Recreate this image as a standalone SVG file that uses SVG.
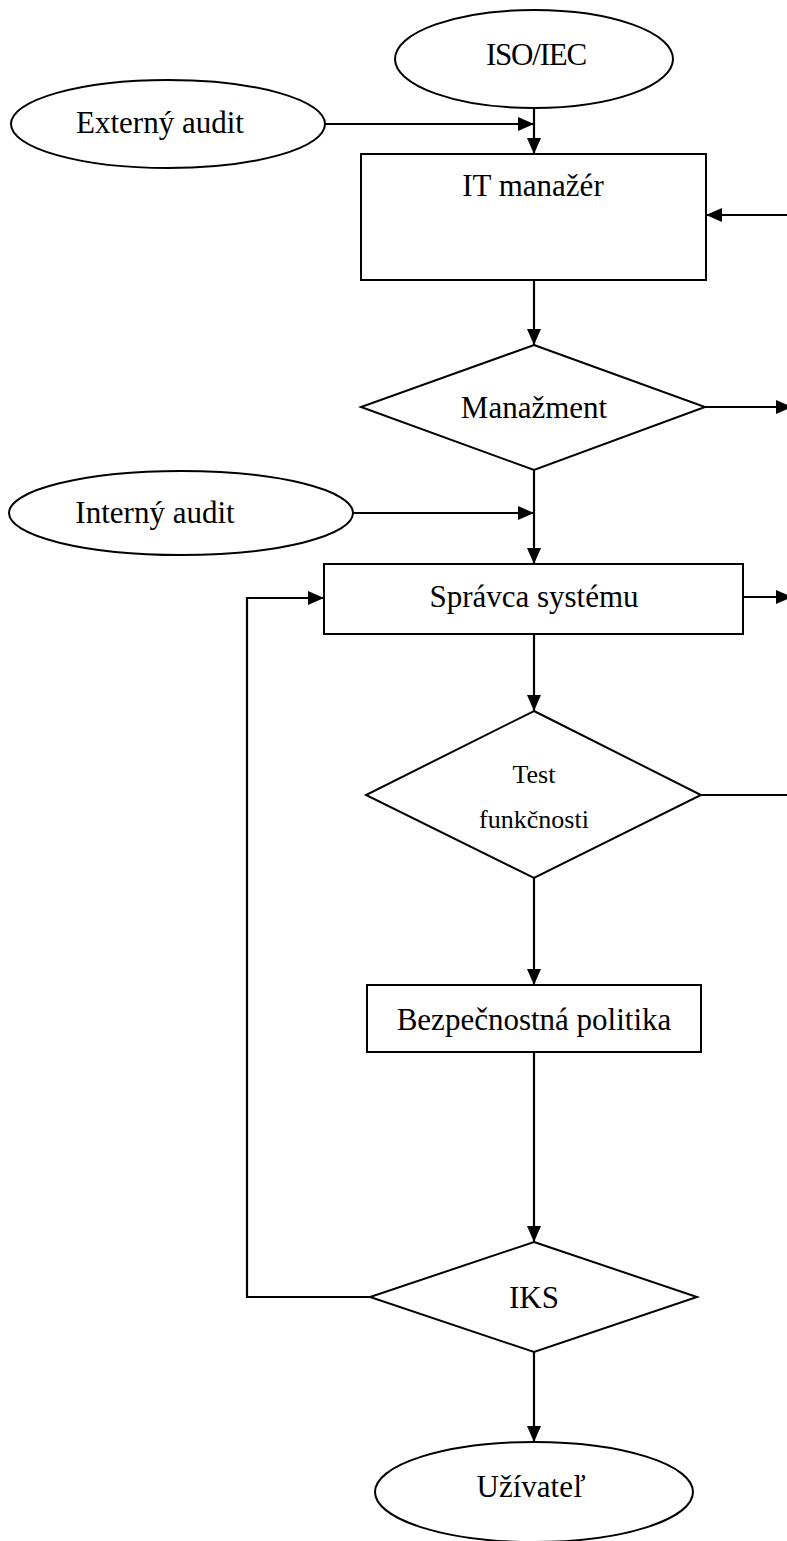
<svg xmlns="http://www.w3.org/2000/svg" width="787" height="1541" viewBox="0 0 787 1541">
<style>
.s{fill:#fff;stroke:#000;stroke-width:2}
.c{fill:none;stroke:#000;stroke-width:2.2}
.t{font-family:"Liberation Serif","Times New Roman",serif;font-size:31px;fill:#000;text-anchor:middle}
.ts{font-size:26px}
</style>
<defs>
<marker id="ah" viewBox="0 0 16 14" refX="16" refY="7" markerWidth="16" markerHeight="14" markerUnits="userSpaceOnUse" orient="auto">
<path d="M0,0 L16,7 L0,14 z" fill="#000"/>
</marker>
</defs>
<rect width="787" height="1541" fill="#fff"/>
<g id="connectors">
<path class="c" d="M534,108 V154" marker-end="url(#ah)"/>
<path class="c" d="M325,124 H534" marker-end="url(#ah)"/>
<path class="c" d="M787,215 H706" marker-end="url(#ah)"/>
<path class="c" d="M534,280 V345" marker-end="url(#ah)"/>
<path class="c" d="M705,407 H792" marker-end="url(#ah)"/>
<path class="c" d="M534,470 V564" marker-end="url(#ah)"/>
<path class="c" d="M353,513 H534" marker-end="url(#ah)"/>
<path class="c" d="M743,597 H792" marker-end="url(#ah)"/>
<path class="c" d="M534,634 V711" marker-end="url(#ah)"/>
<path class="c" d="M701,795 H787"/>
<path class="c" d="M534,878 V985" marker-end="url(#ah)"/>
<path class="c" d="M534,1052 V1242" marker-end="url(#ah)"/>
<path class="c" d="M370,1297 H247 V598 H324" marker-end="url(#ah)"/>
<path class="c" d="M534,1352 V1442" marker-end="url(#ah)"/>
</g>
<g id="iso">
<ellipse class="s" cx="534" cy="59" rx="139" ry="49"/>
<text class="t" x="536" y="65" font-size="33" letter-spacing="-1.2">ISO/IEC</text>
</g>
<g id="externy">
<ellipse class="s" cx="168" cy="124" rx="157" ry="44"/>
<text class="t" x="160" y="133">Externý audit</text>
</g>
<g id="itmanazer">
<rect class="s" x="361" y="154" width="345" height="126"/>
<text class="t" x="533" y="196">IT manažér</text>
</g>
<g id="manazment">
<polygon class="s" points="534,345 705,407 534,470 361,407"/>
<text class="t" x="534" y="418">Manažment</text>
</g>
<g id="interny">
<ellipse class="s" cx="181" cy="513" rx="172" ry="42"/>
<text class="t" x="155" y="523">Interný audit</text>
</g>
<g id="spravca">
<rect class="s" x="324" y="564" width="419" height="70"/>
<text class="t" x="534" y="607">Správca systému</text>
</g>
<g id="test">
<polygon class="s" points="534,711 701,795 534,878 366,795"/>
<text class="t ts" x="534" y="783">Test</text>
<text class="t ts" x="534" y="828">funkčnosti</text>
</g>
<g id="bezpecnost">
<rect class="s" x="367" y="985" width="334" height="67"/>
<text class="t" x="534" y="1030">Bezpečnostná politika</text>
</g>
<g id="iks">
<polygon class="s" points="534,1242 697,1297 534,1352 370,1297"/>
<text class="t" x="534" y="1308">IKS</text>
</g>
<g id="uzivatel">
<ellipse class="s" cx="534" cy="1492" rx="159" ry="50"/>
<text class="t" x="531" y="1497" font-size="30">Užívateľ</text>
</g>
</svg>
